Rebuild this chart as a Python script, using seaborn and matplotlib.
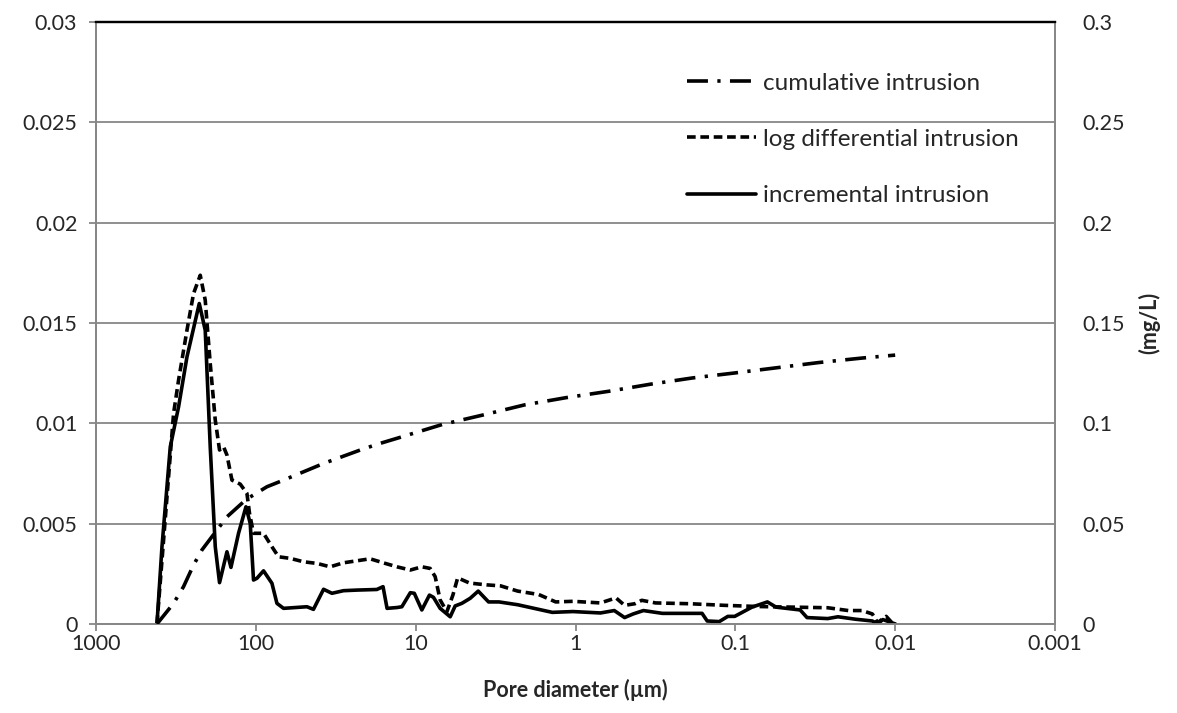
import numpy as np
import pandas as pd
import matplotlib
matplotlib.use("Agg")
import matplotlib.pyplot as plt
import seaborn as sns
from matplotlib.lines import Line2D

# ---------------- data ----------------
cum_diam = [415.5, 327.1, 283.4, 245.3, 217.4, 188.2, 151.6, 114.8, 85.2, 67.1,
            37.7, 21.7, 16.7, 12.4, 6.83, 3.77, 2.08, 1.145, 0.616, 0.340,
            0.186, 0.1009, 0.0551, 0.030, 0.01627, 0.0100]
cum_val = [0.0, 0.0103, 0.0186, 0.0294, 0.0369, 0.0435, 0.0534, 0.0621, 0.0684, 0.0717,
           0.0800, 0.0870, 0.0900, 0.0931, 0.0994, 0.1042, 0.1092, 0.1128, 0.1160, 0.1195,
           0.1226, 0.1251, 0.1277, 0.1303, 0.1325, 0.1340]

log_diam = [415.5, 327.1, 304.4, 269.7, 245.3, 222.7, 207.3, 192.9, 179.4, 168.7,
            159.2, 151.6, 141.1, 125.2, 113.7, 109.5, 103.4, 89.5, 79.3, 72.1,
            60.9, 50.3, 41.5, 34.3, 28.3, 23.3, 19.3, 15.5, 13.1, 10.8,
            9.15, 8.12, 7.55, 7.03, 6.38, 5.85, 5.46, 4.60, 3.59, 2.94,
            2.30, 1.70, 1.33, 1.038, 0.698, 0.558, 0.493, 0.425, 0.385, 0.3155,
            0.1922, 0.117, 0.0713, 0.0434, 0.02643, 0.01965, 0.0161, 0.01389, 0.01288, 0.01138,
            0.0103]
log_val = [0.0, 0.01049, 0.01215, 0.01464, 0.01647, 0.01738, 0.01614, 0.01298, 0.01016, 0.00867,
           0.00883, 0.00842, 0.00717, 0.00697, 0.00651, 0.00551, 0.00452, 0.00452, 0.00385, 0.00335,
           0.00327, 0.00310, 0.00302, 0.00285, 0.00305, 0.00315, 0.00325, 0.00302, 0.00285, 0.00269,
           0.00285, 0.00277, 0.00236, 0.00120, 0.00061, 0.00144, 0.00230, 0.00204, 0.00195, 0.00190,
           0.00164, 0.00147, 0.00110, 0.00113, 0.00105, 0.00130, 0.00093, 0.00101, 0.00118, 0.00105,
           0.00101, 0.00093, 0.00087, 0.00084, 0.00081, 0.00067, 0.00067, 0.00050, 0.00007, 0.00038,
           0.0]

inc_diam = [415.5, 386.6, 343.0, 304.4, 269.7, 225.9, 207.3, 192.9, 179.4, 168.7,
            151.6, 143.1, 128.3, 115.3, 108.4, 103.4, 98.4, 89.5, 79.3, 73.8,
            67.1, 47.9, 43.6, 37.7, 33.4, 28.3, 23.3, 17.5, 16.0, 15.1,
            13.1, 12.2, 10.8, 10.2, 9.15, 8.20, 7.74, 7.03, 6.08, 5.66,
            5.14, 4.56, 4.06, 3.50, 3.01, 2.30, 1.397, 1.038, 0.698, 0.572,
            0.493, 0.436, 0.376, 0.286, 0.1615, 0.150, 0.126, 0.1114, 0.1009, 0.0787,
            0.0630, 0.0556, 0.0393, 0.0356, 0.02643, 0.02279, 0.01778, 0.01389, 0.01288, 0.01195,
            0.00996]
inc_val = [0.0, 0.00385, 0.00883, 0.01082, 0.01331, 0.01597, 0.01464, 0.00883, 0.00385, 0.00206,
           0.00360, 0.00282, 0.00452, 0.00584, 0.00501, 0.00219, 0.00228, 0.00265, 0.00203, 0.00103,
           0.00078, 0.00086, 0.00073, 0.00173, 0.00153, 0.00166, 0.00169, 0.00172, 0.00186, 0.00078,
           0.00082, 0.00086, 0.00156, 0.00153, 0.00070, 0.00144, 0.00133, 0.00078, 0.00036, 0.00090,
           0.00103, 0.00128, 0.00164, 0.00110, 0.00110, 0.00096, 0.00058, 0.00062, 0.00055, 0.00067,
           0.00032, 0.00050, 0.00067, 0.00053, 0.00053, 0.00015, 0.00012, 0.00038, 0.00038, 0.00084,
           0.00110, 0.00084, 0.00070, 0.00032, 0.00027, 0.00036, 0.00024, 0.00015, 0.0, 0.00022,
           0.0]

series_labels = ["cumulative intrusion", "log differential intrusion", "incremental intrusion"]
x_ticks = [1000, 100, 10, 1, 0.1, 0.01, 0.001]
x_tick_labels = ["1000", "100", "10", "1", "0.1", "0.01", "0.001"]
left_ticks = [0, 0.005, 0.01, 0.015, 0.02, 0.025, 0.03]
left_tick_labels = ["0", "0.005", "0.01", "0.015", "0.02", "0.025", "0.03"]
right_ticks = [0, 0.05, 0.1, 0.15, 0.2, 0.25, 0.3]
right_tick_labels = ["0", "0.05", "0.1", "0.15", "0.2", "0.25", "0.3"]
x_label = "Pore diameter (µm)"
right_label = "(mg/L)"

# ---------------- styling ----------------
sns.set_theme(style="white")
plt.rcParams["font.family"] = ["Lato", "DejaVu Sans"]
FS = 15.5
FS_LEG = 17.5
GRID = "#878787"
LW = 2.6

fig = plt.figure(figsize=(11.77, 7.13), dpi=100)
W, H = 1177, 713
ax = fig.add_axes([96 / W, 1 - 624 / H, (1055 - 96) / W, (624 - 22) / H])
ax2 = ax.twinx()

df_log = pd.DataFrame({"d": log_diam, "v": log_val})
df_inc = pd.DataFrame({"d": inc_diam, "v": inc_val})
df_cum = pd.DataFrame({"d": cum_diam, "v": cum_val})

dash_log = (0, (2.4, 1.3))
dash_cum = (0, (5.8, 2.6, 0.9, 2.6))

sns.lineplot(data=df_log, x="d", y="v", ax=ax, color="black", lw=LW,
             linestyle=dash_log, sort=False, estimator=None, zorder=3)
sns.lineplot(data=df_inc, x="d", y="v", ax=ax, color="black", lw=LW,
             linestyle="-", sort=False, estimator=None, zorder=4)
sns.lineplot(data=df_cum, x="d", y="v", ax=ax2, color="black", lw=LW,
             linestyle=dash_cum, sort=False, estimator=None, zorder=3)

for a in (ax, ax2):
    a.set_xscale("log")
    a.set_xlim(1000, 0.001)
    a.set_xlabel("")
    a.set_ylabel("")
    a.minorticks_off()

ax.set_ylim(0, 0.03)
ax2.set_ylim(0, 0.3)
ax.set_xticks(x_ticks)
ax.set_xticklabels(x_tick_labels)
ax.set_yticks(left_ticks)
ax.set_yticklabels(left_tick_labels)
ax2.set_yticks(right_ticks)
ax2.set_yticklabels(right_tick_labels)
ax.xaxis.set_minor_locator(matplotlib.ticker.NullLocator())
ax2.xaxis.set_minor_locator(matplotlib.ticker.NullLocator())

ax.yaxis.grid(True, color=GRID, lw=1.3)
ax.xaxis.grid(False)
ax2.grid(False)

for a in (ax, ax2):
    for s in a.spines.values():
        s.set_color(GRID)
        s.set_linewidth(1.3)
    a.spines["top"].set_color("black")
    a.spines["top"].set_linewidth(1.6)

ax.tick_params(axis="y", which="major", direction="out", length=5, width=1.3,
               color=GRID, labelsize=FS, pad=8.5, left=True)
ax.tick_params(axis="x", which="major", direction="out", length=5, width=1.3,
               color=GRID, labelsize=FS, pad=2.5, bottom=True)
ax2.tick_params(axis="y", which="major", length=0, labelsize=FS, pad=19.5, right=True)

ax.set_xlabel(x_label, fontsize=FS, fontweight="bold", labelpad=18)
ax2.set_ylabel(right_label, fontsize=FS, fontweight="bold", labelpad=10)

handles = [
    Line2D([], [], color="black", lw=LW, linestyle=dash_cum),
    Line2D([], [], color="black", lw=LW, linestyle=dash_log),
    Line2D([], [], color="black", lw=LW, linestyle="-"),
]
leg = fig.legend(handles, series_labels, loc="upper left",
                 bbox_to_anchor=(687 / W, 1 - 72.5 / H), frameon=False,
                 fontsize=FS_LEG, handlelength=2.84, handletextpad=0.29,
                 labelspacing=1.45, borderpad=0, borderaxespad=0)

fig.savefig("out.png", dpi=100)
